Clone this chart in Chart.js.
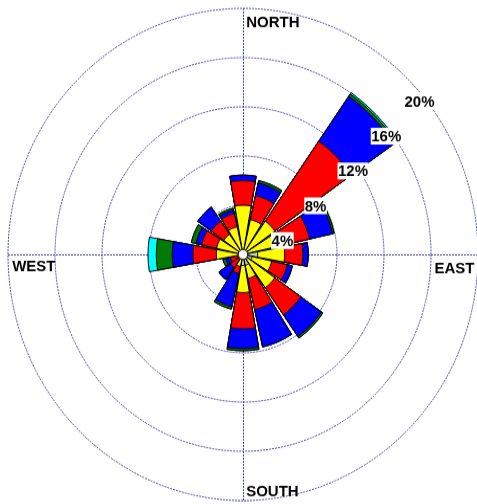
<!DOCTYPE html>
<html>
<head>
<meta charset="utf-8">
<title>Wind rose</title>
<script src="https://cdn.jsdelivr.net/npm/chart.js@4.4.1/dist/chart.umd.min.js"></script>
<style>
  html, body { margin: 0; padding: 0; background: #fff; overflow: hidden; }
  /* the original picture is a little taller than wide */
  #wrap { position: absolute; left: 0; top: 0; transform: scaleY(1.047); transform-origin: 0 0; }
</style>
</head>
<body>
<div id="wrap"><canvas id="rose" width="479" height="479"></canvas></div>
<script>
// directions, clockwise from north
const directions = ["N", "NNE", "NE", "ENE", "E", "ESE", "SE", "SSE", "S", "SSW", "SW", "WSW", "W", "WNW", "NW", "NNW"];
// wind speed classes, inner to outer
const speedBins = ["0.5 - 2.1", "2.1 - 3.6", "3.6 - 5.7", "5.7 - 8.8", "8.8 - 11.1", ">= 11.1"];
const binColors = ["#c4d4c4", "#ffff00", "#ff0000", "#0000ff", "#007a00", "#00ffff"];

// frequency (%) of each speed class, per direction
const bin1 = [0, 0, 0, 0, 1.25, 0.8, 0.5, 0.9, 0.9, 0, 0, 0, 0, 0, 0, 0];
const bin2 = [4.0, 2.9, 3.3, 3.3, 2.3, 1.7, 2.8, 1.1, 2.2, 1.0, 0.4, 0.5, 2.27, 2.3, 2.0, 2.3];
const bin3 = [2.0, 2.0, 7.95, 2.5, 1.55, 1.35, 2.7, 2.6, 2.95, 0.6, 0.9, 0.6, 1.99, 1.3, 1.3, 1.1];
const bin4 = [0.45, 1.05, 4.45, 2.0, 0.45, 0.45, 2.15, 3.1, 1.6, 2.75, 1.2, 0.4, 1.76, 0.5, 1.4, 0.3];
const bin5 = [0, 0.2, 0.22, 0.15, 0, 0, 0.15, 0, 0.18, 0.2, 0, 0.25, 1.36, 0.4, 0, 0.15];
const bin6 = [0, 0, 0.13, 0, 0, 0, 0, 0, 0, 0, 0, 0, 0.71, 0, 0, 0];

const ringValues = [4, 8, 12, 16, 20];
const compassLabels = ["NORTH", "EAST", "SOUTH", "WEST"];

const petalAngle = 20; // degrees, the rest of 22.5 is a gap
const bins = [bin1, bin2, bin3, bin4, bin5, bin6];

// each petal is followed by an empty gap slot
const labels = [];
directions.forEach((d) => labels.push(d, ""));

// stacked: every class is drawn out to its running total
let running = directions.map(() => 0);
const datasets = bins.map((bin, k) => {
  running = running.map((v, i) => v + bin[i]);
  const data = [];
  running.forEach((v) => data.push(v, 0));
  return {
    label: speedBins[k],
    data: data,
    backgroundColor: (c) => (c.index % 2 ? "transparent" : binColors[k]),
    borderColor: "#000",
    borderWidth: (c) => (c.index % 2 ? 0 : 1),
    angle: (c) => (c.index % 2 ? 22.5 - petalAngle : petalAngle),
  };
});

const FONT = "bold 15px 'Liberation Sans', Arial, sans-serif";
const GRID = "#4646aa";

// axis cross, compass words, ring labels and the calm hole
const roseDecor = {
  id: "roseDecor",
  beforeDatasetsDraw(chart) {
    const r = chart.scales.r;
    const ctx = chart.ctx;
    const R = r.getDistanceFromCenterForValue(20);
    ctx.save();
    ctx.strokeStyle = GRID;
    ctx.lineWidth = 1;
    ctx.setLineDash([2, 1]);
    ctx.beginPath();
    ctx.moveTo(r.xCenter - R, r.yCenter + 0.5);
    ctx.lineTo(r.xCenter + R + 10, r.yCenter + 0.5);
    ctx.moveTo(r.xCenter + 0.5, r.yCenter - R);
    ctx.lineTo(r.xCenter + 0.5, r.yCenter + R);
    ctx.stroke();
    ctx.restore();
  },
  afterDatasetsDraw(chart) {
    const r = chart.scales.r;
    const ctx = chart.ctx;
    const cx = r.xCenter;
    const cy = r.yCenter;
    const R = r.getDistanceFromCenterForValue(20);
    ctx.save();

    // calm circle
    ctx.beginPath();
    ctx.arc(cx, cy, 4.7, 0, Math.PI * 2);
    ctx.fillStyle = "#fff";
    ctx.fill();
    ctx.strokeStyle = "#000";
    ctx.lineWidth = 0.8;
    ctx.stroke();

    ctx.font = FONT;
    ctx.fillStyle = "#000";
    ctx.textBaseline = "alphabetic";
    ctx.textAlign = "left";
    ctx.fillText(compassLabels[0], cx + 3.2, cy - R + 17.5);
    ctx.fillText(compassLabels[2], cx + 3.2, cy + R - 4);
    ctx.fillText(compassLabels[3], cx - R + 4.2, cy + 16);
    ctx.textAlign = "right";
    ctx.fillText(compassLabels[1], cx + R - 3.5, cy + 18);

    // ring values along the north-east diagonal
    ctx.textAlign = "left";
    ctx.textBaseline = "middle";
    ringValues.forEach((v) => {
      const d = r.getDistanceFromCenterForValue(v) * Math.SQRT1_2;
      const txt = v + "%";
      const x = cx + d - 4.7;
      const y = cy - d + 20;
      const w = ctx.measureText(txt).width;
      ctx.fillStyle = "#fff";
      ctx.fillRect(x - 0.5, y - 8, w + 1, 16);
      ctx.fillStyle = "#000";
      ctx.fillText(txt, x, y + 1);
    });
    ctx.restore();
  },
};

new Chart(document.getElementById("rose"), {
  type: "polarArea",
  data: { labels: labels, datasets: datasets },
  options: {
    responsive: false,
    animation: false,
    layout: { padding: { left: 8, top: 8, right: 0, bottom: 0 } },
    plugins: { legend: { display: false }, tooltip: { enabled: false } },
    scales: {
      r: {
        min: 0,
        max: 20,
        startAngle: -petalAngle / 2,
        ticks: { display: false, stepSize: 4 },
        grid: { color: GRID, lineWidth: 1 },
        border: { dash: [2, 1] },
        angleLines: { display: false },
        pointLabels: { display: false },
      },
    },
  },
  plugins: [roseDecor],
});
</script>
</body>
</html>
